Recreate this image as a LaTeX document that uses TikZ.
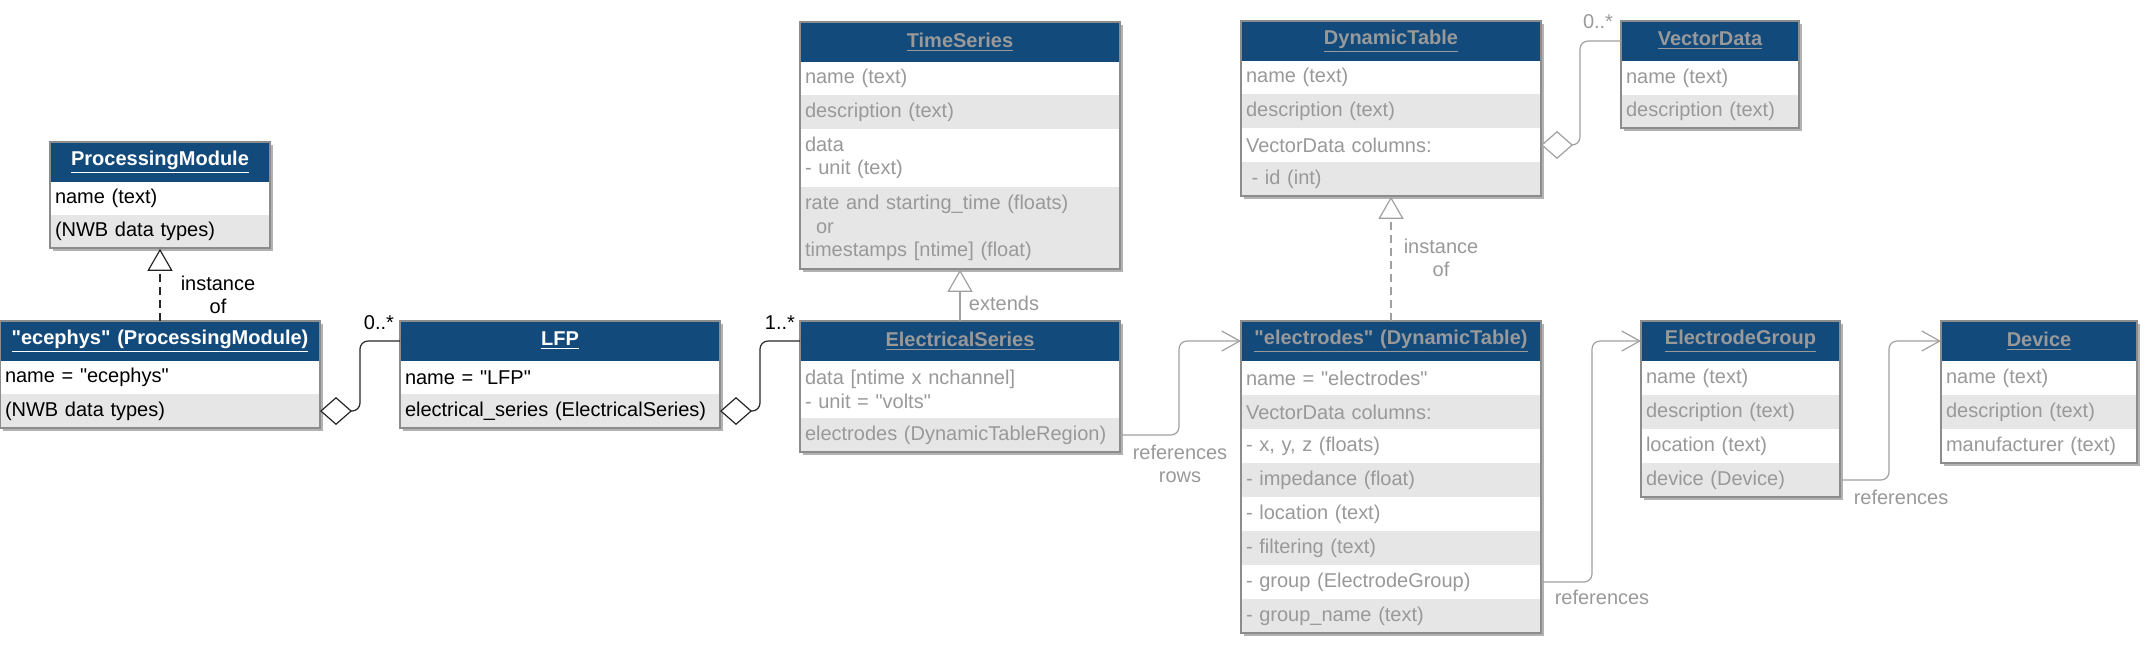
\documentclass[tikz,border=0pt]{standalone}
\usepackage{fontspec}
\setmainfont{Liberation Sans}[Ligatures=TeXOff]
\usetikzlibrary{arrows.meta,shadows,fit,backgrounds,calc}
\definecolor{hdrblue}{RGB}{19,74,124}
\definecolor{txtgray}{RGB}{153,153,153}
\definecolor{rowgray}{RGB}{230,230,230}
\definecolor{bordergray}{RGB}{140,140,140}
\definecolor{linegray}{RGB}{160,160,160}
\newcommand\umlframe[3]{%
  \begin{scope}[on background layer]
    \node[fit=(#2)(#3), inner sep=0pt, fill=white,
      drop shadow={shadow xshift=1.5pt, shadow yshift=-1.5pt, fill=black, opacity=0.3}] {};
  \end{scope}
  \node[fit=(#2)(#3), inner sep=0pt, draw=bordergray, line width=0.75pt] (#1) {};}
\begin{document}
\begin{tikzpicture}[x=0.5pt, y=-0.5pt,
  cell/.style={anchor=north west, inner xsep=2.5pt, inner ysep=0pt, outer sep=0pt,
    align=left, font=\fontsize{10}{11.7}\selectfont, minimum height=17pt},
  bw/.style={minimum width=#1, text width=#1-5pt},
  hd/.style={cell, fill=hdrblue, align=center, minimum height=20pt,
    font=\fontsize{10}{12}\selectfont\bfseries},
  wr/.style={cell, fill=white},
  gr/.style={cell, fill=rowgray},
  conn/.style={line width=0.6pt, draw=black!85},
  conng/.style={line width=0.6pt, draw=linegray},
  lbl/.style={align=center, inner sep=0pt, font=\fontsize{10}{11.7}\selectfont},
  inherit/.style={-{Triangle[open, length=11pt, width=12.5pt, fill=white]}},
  aggr/.style={{Diamond[open, length=16pt, width=14pt, fill=white]}-, rounded corners=4pt},
  refarrow/.style={-{Straight Barb[length=9pt, width=10pt]}, rounded corners=4pt},
  dashpat/.style={dash pattern=on 4pt off 2.5pt}
]
\useasboundingbox (0,0) rectangle (2154,645);

% ProcessingModule
\node[hd, bw=110pt, text=white] (pm-h) at (50,142) {\underline{ProcessingModule}};
\node[wr, bw=110pt, minimum height=16.5pt] (pm-1) at (pm-h.south west) {name (text)};
\node[gr, bw=110pt, minimum height=16.5pt] (pm-2) at (pm-1.south west) {(NWB data types)};
\umlframe{pm}{pm-h}{pm-2}

% "ecephys" (ProcessingModule)
\node[hd, bw=160pt, text=white] (ec-h) at (0,321) {\underline{"ecephys" (ProcessingModule)}};
\node[wr, bw=160pt, minimum height=16.5pt] (ec-1) at (ec-h.south west) {name = "ecephys"};
\node[gr, bw=160pt] (ec-2) at (ec-1.south west) {(NWB data types)};
\umlframe{ec}{ec-h}{ec-2}

% LFP
\node[hd, bw=160pt, text=white] (lfp-h) at (400,321) {\underline{LFP}};
\node[wr, bw=160pt, minimum height=16.5pt] (lfp-1) at (lfp-h.south west) {name = "LFP"};
\node[gr, bw=160pt] (lfp-2) at (lfp-1.south west) {electrical\_series (ElectricalSeries)};
\umlframe{lfp}{lfp-h}{lfp-2}

% TimeSeries
\node[hd, bw=160pt, text=txtgray] (ts-h) at (800,22) {\underline{TimeSeries}};
\node[wr, bw=160pt, text=txtgray, minimum height=16.5pt] (ts-1) at (ts-h.south west) {name (text)};
\node[gr, bw=160pt, text=txtgray] (ts-2) at (ts-1.south west) {description (text)};
\node[wr, bw=160pt, text=txtgray, minimum height=29pt] (ts-3) at (ts-2.south west) {data\\- unit (text)};
\node[gr, bw=160pt, text=txtgray, minimum height=41pt] (ts-4) at (ts-3.south west)
  {rate and starting\_time (floats)\\\hspace*{5.5pt}or\\timestamps [ntime] (float)};
\umlframe{ts}{ts-h}{ts-4}

% ElectricalSeries
\node[hd, bw=160pt, text=txtgray] (es-h) at (800,321) {\underline{ElectricalSeries}};
\node[wr, bw=160pt, text=txtgray, minimum height=28.5pt] (es-1) at (es-h.south west) {data [ntime x nchannel]\\- unit = "volts"};
\node[gr, bw=160pt, text=txtgray] (es-2) at (es-1.south west) {electrodes (DynamicTableRegion)};
\umlframe{es}{es-h}{es-2}

% DynamicTable
\node[hd, bw=150pt, text=txtgray] (dt-h) at (1241,21) {\underline{DynamicTable}};
\node[wr, bw=150pt, text=txtgray, minimum height=16.5pt] (dt-1) at (dt-h.south west) {name (text)};
\node[gr, bw=150pt, text=txtgray] (dt-2) at (dt-1.south west) {description (text)};
\node[wr, bw=150pt, text=txtgray] (dt-3) at (dt-2.south west) {VectorData columns:};
\node[gr, bw=150pt, text=txtgray] (dt-4) at (dt-3.south west) {\hspace*{2.8pt}- id (int)};
\umlframe{dt}{dt-h}{dt-4}

% VectorData
\node[hd, bw=89pt, text=txtgray] (vd-h) at (1621,21) {\underline{VectorData}};
\node[wr, bw=89pt, text=txtgray] (vd-1) at (vd-h.south west) {name (text)};
\node[gr, bw=89pt, text=txtgray, minimum height=16.5pt] (vd-2) at (vd-1.south west) {description (text)};
\umlframe{vd}{vd-h}{vd-2}

% "electrodes" (DynamicTable)
\node[hd, bw=150pt, text=txtgray] (el-h) at (1241,321) {\underline{"electrodes" (DynamicTable)}};
\node[wr, bw=150pt, text=txtgray] (el-1) at (el-h.south west) {name = "electrodes"};
\node[gr, bw=150pt, text=txtgray] (el-2) at (el-1.south west) {VectorData columns:};
\node[wr, bw=150pt, text=txtgray] (el-3) at (el-2.south west) {- x, y, z (floats)};
\node[gr, bw=150pt, text=txtgray] (el-4) at (el-3.south west) {- impedance (float)};
\node[wr, bw=150pt, text=txtgray] (el-5) at (el-4.south west) {- location (text)};
\node[gr, bw=150pt, text=txtgray] (el-6) at (el-5.south west) {- filtering (text)};
\node[wr, bw=150pt, text=txtgray] (el-7) at (el-6.south west) {- group (ElectrodeGroup)};
\node[gr, bw=150pt, text=txtgray] (el-8) at (el-7.south west) {- group\_name (text)};
\umlframe{el}{el-h}{el-8}

% ElectrodeGroup
\node[hd, bw=99.5pt, text=txtgray] (eg-h) at (1641,321) {\underline{ElectrodeGroup}};
\node[wr, bw=99.5pt, text=txtgray] (eg-1) at (eg-h.south west) {name (text)};
\node[gr, bw=99.5pt, text=txtgray] (eg-2) at (eg-1.south west) {description (text)};
\node[wr, bw=99.5pt, text=txtgray] (eg-3) at (eg-2.south west) {location (text)};
\node[gr, bw=99.5pt, text=txtgray] (eg-4) at (eg-3.south west) {device (Device)};
\umlframe{eg}{eg-h}{eg-4}

% Device
\node[hd, bw=98pt, text=txtgray] (dev-h) at (1941,321) {\underline{Device}};
\node[wr, bw=98pt, text=txtgray] (dev-1) at (dev-h.south west) {name (text)};
\node[gr, bw=98pt, text=txtgray] (dev-2) at (dev-1.south west) {description (text)};
\node[wr, bw=98pt, text=txtgray] (dev-3) at (dev-2.south west) {manufacturer (text)};
\umlframe{dev}{dev-h}{dev-3}

% connectors
\draw[conn, inherit, dashpat] (ec-h.north) -- (pm.south);
\node[lbl] (lbl-inst1) at (218,295) {instance\\of};

\draw[conn, aggr] (ec-2.east) -- ++(40,0) |- (lfp-h.west);
\node[lbl] (lbl-m1) at (379,323) {0..*};

\draw[conn, aggr] (lfp-2.east) -- ++(40,0) |- (es-h.west);
\node[lbl] (lbl-m2) at (780,323) {1..*};

\draw[conng, inherit] (es-h.north) -- (es-h.north |- ts.south);
\node[lbl, text=txtgray] (lbl-ext) at (1004,303) {extends};

\draw[conng, refarrow] (es-2.east) -- ++(59,0) |- (el-h.west);
\node[lbl, text=txtgray] (lbl-ref1) at (1180,464) {references\\rows};

\draw[conng, inherit, dashpat] (el-h.north) -- (el-h.north |- dt.south);
\node[lbl, text=txtgray] (lbl-inst2) at (1441,258) {instance\\of};

\draw[conng, aggr] (dt-3.east) -- ++(39,0) |- (vd-h.west);
\node[lbl, text=txtgray] (lbl-m3) at (1598,22) {0..*};

\draw[conng, refarrow] (el-7.east) -- ++(51,0) |- (eg-h.west);
\node[lbl, text=txtgray] (lbl-ref2) at (1602,597) {references};

\draw[conng, refarrow] (eg-4.east) -- ++(49,0) |- (dev-h.west);
\node[lbl, text=txtgray] (lbl-ref3) at (1901,497) {references};
\end{tikzpicture}
\end{document}
